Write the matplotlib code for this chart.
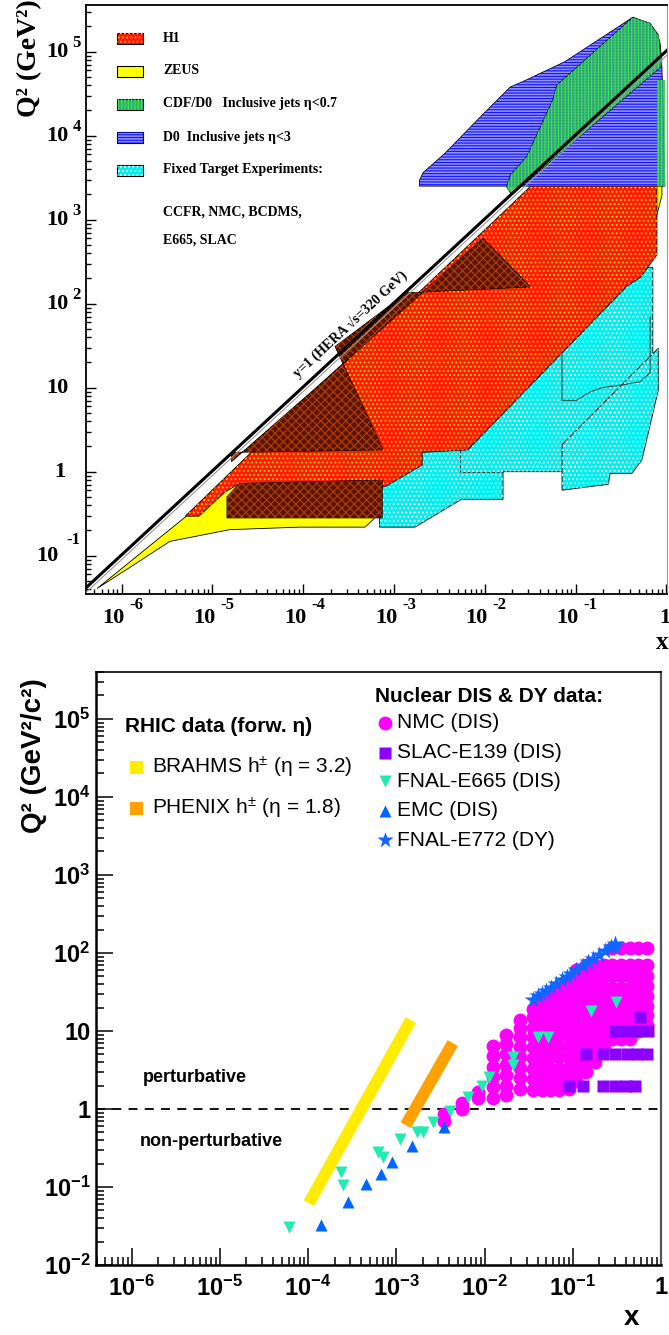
import numpy as np
import matplotlib.pyplot as plt
from matplotlib.patches import Polygon, Rectangle
from matplotlib.lines import Line2D
from matplotlib.ticker import FixedLocator, NullFormatter, FuncFormatter

plt.rcParams['mathtext.fontset'] = 'custom'
plt.rcParams['mathtext.rm'] = 'Liberation Sans'
plt.rcParams['mathtext.bf'] = 'Liberation Sans:bold'
plt.rcParams['mathtext.it'] = 'Liberation Sans:italic'
plt.rcParams['hatch.linewidth'] = 0.8

SERIF = 'Liberation Serif'
SANS = 'Liberation Sans'

# ---------------- top panel: kinematic coverage, vertices as (log10 x, log10 Q2)
hera_sqrt_s = 320.0

zeus = [(-6.27, -1.39), (-5.91, -1.14), (-5.47, -0.83), (-4.81, -0.69), (-4.04, -0.66),
        (-3.32, -0.66), (-2.80, -0.14), (-2.16, 0.20), (-0.29, 2.28), (-0.05, 3.29),
        (-0.05, 4.70), (-2.91, 1.93), (-5.30, -0.54)]
h1 = [(-5.30, -0.53), (-3.98, 0.85), (-1.61, 3.28), (-0.29, 4.66), (-0.105, 4.66),
      (-0.105, 2.58), (-0.29, 2.31), (-0.435, 2.21), (-2.19, 0.26), (-2.69, 0.23),
      (-2.69, 0.08), (-3.10, -0.18), (-4.70, -0.14), (-4.86, -0.24), (-5.15, -0.53)]
h1_dark_a = [(-4.79, 0.12), (-3.89, 0.97), (-2.02, 2.78), (-1.50, 2.20), (-2.86, 2.13),
             (-3.65, 1.49), (-3.12, 0.26), (-4.79, 0.23)]
h1_dark_b = [(-4.84, -0.30), (-4.70, -0.14), (-3.13, -0.10), (-3.13, -0.55), (-4.84, -0.55)]
fixed_a = [(-3.16, -0.66), (-2.77, -0.66), (-2.26, -0.33), (-1.80, -0.33), (-1.80, 0.00),
           (-1.03, 0.00), (-0.27, 1.03), (-0.15, 1.27), (-0.15, 2.43), (-0.42, 2.43),
           (-0.435, 2.21), (-2.19, 0.26), (-3.16, 0.26)]
fixed_b = [(-1.15, -0.22), (-0.64, -0.15), (-0.62, -0.02), (-0.38, -0.02), (-0.27, 0.14),
           (-0.09, 0.97), (-0.09, 1.47), (-1.15, 0.32)]
fixed_box = [(-1.15, 1.39), (-1.15, 0.85), (-0.99, 0.85), (-0.84, 0.95), (-0.71, 1.00),
             (-0.51, 1.03), (-0.29, 1.07), (-0.18, 1.18), (-0.18, 1.85)]
fixed_dash = [(-2.27, 0.26), (-2.27, 0.00), (-1.80, 0.00)]
d0_fwd = [(-2.72, 3.40), (-2.72, 3.47), (-2.68, 3.56), (-2.44, 3.79), (-2.08, 4.19),
          (-1.72, 4.58), (-1.59, 4.64), (-1.12, 4.88), (-0.37, 5.41), (-0.18, 5.32),
          (-0.105, 5.22), (-0.07, 5.10), (-0.05, 4.82), (-0.017, 3.40)]
cdf_d0 = [(-1.72, 3.32), (-1.76, 3.39), (-1.72, 3.53), (-1.54, 3.75), (-1.25, 4.43),
          (-1.21, 4.60), (-0.37, 5.41), (-0.18, 5.34), (-0.09, 5.20), (-0.05, 4.90),
          (-0.06, 4.82), (-1.69, 3.31)]
cdf_d0_strip = [(-0.10, 4.66), (-0.017, 4.66), (-0.017, 3.40), (-0.10, 3.40)]

# ---------------- bottom panel data
brahms_x = [1.02e-4, 1.46e-3]
brahms_q2 = [0.062, 13.8]
phenix_x = [1.28e-3, 4.36e-3]
phenix_q2 = [0.62, 7.0]

nmc_x = [0.0035, 0.0055, 0.0085, 0.0125, 0.0175, 0.025, 0.035, 0.045, 0.055, 0.07,
         0.09, 0.11, 0.14, 0.18, 0.225, 0.275, 0.35, 0.45, 0.55, 0.7]
nmc_q2 = [[0.7, 0.85],
          [1.0, 1.2],
          [1.4, 1.65],
          [1.4, 1.9, 2.6, 3.5, 4.8, 6.5],
          [1.5, 2.0, 2.7, 3.7, 5.0, 6.8, 8.8],
          [1.8, 2.5, 3.4, 4.6, 6.2, 8.4, 11, 14],
          [1.75, 2.4, 3.3, 4.5, 6.2, 8.4, 11, 15, 19],
          [1.75, 2.4, 3.3, 4.5, 6.2, 8.4, 11, 15, 20, 26],
          [1.75, 2.4, 3.3, 4.6, 6.3, 8.6, 11.5, 15.5, 21, 28],
          [1.75, 2.4, 3.3, 4.6, 6.3, 8.6, 11.5, 15.5, 21, 28, 36],
          [1.8, 2.5, 3.4, 4.7, 6.5, 8.9, 12, 16, 22, 30, 40],
          [2.3, 3.1, 4.2, 5.6, 7.6, 10, 13.5, 18, 25, 33, 45, 60],
          [3.0, 4.0, 5.4, 7.3, 9.8, 13, 18, 24, 32, 43, 58, 70],
          [4.0, 5.4, 7.3, 9.8, 13, 18, 24, 32, 43, 58, 70],
          [6, 8, 11, 15, 20, 27, 36, 50, 70],
          [8, 11, 15, 20, 27, 36, 50, 70, 115],
          [8, 11, 15, 20, 27, 36, 50, 70, 115],
          [8, 11, 15, 20, 27, 36, 50, 70, 115],
          [10, 13, 18, 24, 32, 43, 57, 70, 115],
          [12, 16, 21, 28, 38, 50, 70, 115]]

slac_x = [0.09, 0.13, 0.22, 0.30, 0.40, 0.51, 0.14, 0.22, 0.30, 0.41, 0.54, 0.69,
          0.30, 0.41, 0.54, 0.72, 0.58]
slac_q2 = [2, 2, 2, 2, 2, 2, 5, 5, 5, 5, 5, 5, 10, 10, 10, 10, 15]

e665_x = [6.0e-5, 2.34e-4, 2.47e-4, 6.15e-4, 7.0e-4, 1.09e-3, 1.70e-3, 1.99e-3, 2.58e-3,
          4.03e-3, 6.44e-3, 9.27e-3, 0.0111, 0.0208, 0.0208, 0.0399, 0.0519, 0.163, 0.305]
e665_q2 = [0.031, 0.156, 0.106, 0.281, 0.243, 0.41, 0.507, 0.507, 0.68,
           0.94, 1.43, 1.97, 2.57, 4.64, 3.66, 8.4, 8.4, 18, 23.5]

emc_x = [1.39e-4, 2.82e-4, 4.51e-4, 6.67e-4, 8.87e-4, 1.50e-3, 3.44e-3]
emc_q2 = [0.0326, 0.0643, 0.109, 0.147, 0.209, 0.336, 0.588]

e772_x = [0.035, 0.04, 0.045, 0.05, 0.057, 0.065, 0.075, 0.085, 0.095, 0.11, 0.13,
          0.15, 0.17, 0.2, 0.23, 0.27, 0.3, 0.3]
e772_q2 = [25, 28, 30, 33, 36, 40, 45, 49, 54, 60, 68, 76, 84, 95, 107, 120, 130, 118]

fig = plt.figure(figsize=(6.69, 13.35), dpi=100)


def fx(px):
    return px / 669.0


def fy(py):
    return 1 - py / 1335.0


def region(ax, verts, face, hatch=None, hcolor=None, lw=0.6, ls='-', z=1, edge='black', alpha=1.0):
    xy = [(10 ** a, 10 ** b) for a, b in verts]
    ax.add_patch(Polygon(xy, closed=True, facecolor=face, edgecolor=edge, lw=lw, ls=ls, zorder=z,
                         alpha=alpha))
    if hatch:
        ax.add_patch(Polygon(xy, closed=True, fill=False, hatch=hatch, edgecolor=hcolor,
                             lw=0, zorder=z + 0.01))


def decade_ticks(lo, hi):
    major = [10.0 ** k for k in range(lo, hi + 1)]
    minor = [m * 10.0 ** k for k in range(lo - 1, hi + 1) for m in range(2, 10)]
    return major, minor


# ================= top panel =================
ax1 = fig.add_axes([fx(85.6), fy(594), (667 - 85.6) / 669, (594 - 5) / 1335])
ax1.set_xscale('log')
ax1.set_yscale('log')
ax1.set_xlim(10 ** -6.397, 10 ** 0.006)
ax1.set_ylim(10 ** -1.456, 10 ** 5.556)

styles = {
    'h1': ('#ff1a00', '....', '#ffd000'),
    'zeus': ('#ffff00', None, None),
    'cdf': ('#34ac70', '|||||', '#30f040'),
    'd0': ('#9090ff', '------', '#1010ff'),
    'fixed': ('#00f0f0', '....', 'white'),
    'dark': ('#5c1400', 'xxxx', '#b04008'),
}

region(ax1, zeus, *styles['zeus'], z=1)
region(ax1, fixed_a, *styles['fixed'], z=2)
region(ax1, fixed_b, *styles['fixed'], z=2)
region(ax1, h1, *styles['h1'], z=3)
region(ax1, h1_dark_a, *styles['dark'], z=4)
region(ax1, h1_dark_b, *styles['dark'], z=4)
ax1.plot([10 ** a for a, b in fixed_box], [10 ** b for a, b in fixed_box], color='#333333', lw=0.7, zorder=5)
ax1.plot([10 ** a for a, b in fixed_dash], [10 ** b for a, b in fixed_dash], color='#333333', lw=0.7,
         ls=(0, (3, 2)), zorder=5)
region(ax1, d0_fwd, *styles['d0'], z=6)
region(ax1, cdf_d0, *styles['cdf'], z=7, alpha=0.85)
region(ax1, cdf_d0_strip, *styles['cdf'], z=7, lw=0, alpha=0.85)

xl = np.array(ax1.get_xlim())
ax1.plot(xl, hera_sqrt_s ** 2 * xl * 0.88, color='#999999', lw=0.8, zorder=9)
ax1.plot(xl, hera_sqrt_s ** 2 * xl, color='black', lw=2.2, zorder=9)
ax1.text(3.4e-4, 56.0, 'y=1 (HERA √s=320 GeV)', rotation=42.8, rotation_mode='anchor',
         ha='center', va='center', fontsize=10, fontweight='bold', family=SERIF, zorder=10)

mj, mn = decade_ticks(-6, 0)
ax1.xaxis.set_major_locator(FixedLocator(mj))
ax1.xaxis.set_minor_locator(FixedLocator(mn))
mj, mn = decade_ticks(-1, 5)
ax1.yaxis.set_major_locator(FixedLocator(mj))
ax1.yaxis.set_minor_locator(FixedLocator(mn))
for axis in (ax1.xaxis, ax1.yaxis):
    axis.set_major_formatter(NullFormatter())
    axis.set_minor_formatter(NullFormatter())
ax1.tick_params(which='both', direction='in', top=False, right=False, width=1)
ax1.tick_params(which='major', length=7)
ax1.tick_params(which='minor', length=3.5)
for s in ['left', 'bottom', 'top']:
    ax1.spines[s].set_linewidth(1.3)
ax1.spines['right'].set_color('#999999')

tk = dict(family=SERIF, fontweight='bold', textcoords='offset pixels', annotation_clip=False)
for k in range(-6, 1):
    v = 10.0 ** k
    if k == 0:
        ax1.annotate('1', xy=(v, 0), xycoords=('data', 'axes fraction'), xytext=(-2, -24),
                     ha='center', va='center', fontsize=16, **tk)
    else:
        ax1.annotate('10', xy=(v, 0), xycoords=('data', 'axes fraction'), xytext=(3, -24),
                     ha='right', va='center', fontsize=16, **tk)
        ax1.annotate(str(k), xy=(v, 0), xycoords=('data', 'axes fraction'), xytext=(8, -11),
                     ha='left', va='center', fontsize=12, **tk)
for k in range(-1, 6):
    v = 10.0 ** k
    if k == 0:
        ax1.annotate('1', xy=(0, v), xycoords=('axes fraction', 'data'), xytext=(-20, 0),
                     ha='right', va='center', fontsize=16, **tk)
    elif k == 1:
        ax1.annotate('10', xy=(0, v), xycoords=('axes fraction', 'data'), xytext=(-17, 0),
                     ha='right', va='center', fontsize=16, **tk)
    elif k < 0:
        ax1.annotate('10', xy=(0, v), xycoords=('axes fraction', 'data'), xytext=(-27, 0),
                     ha='right', va='center', fontsize=16, **tk)
        ax1.annotate(str(k), xy=(0, v), xycoords=('axes fraction', 'data'), xytext=(-19, 16),
                     ha='left', va='center', fontsize=12, **tk)
    else:
        ax1.annotate('10', xy=(0, v), xycoords=('axes fraction', 'data'), xytext=(-17, 0),
                     ha='right', va='center', fontsize=16, **tk)
        ax1.annotate(str(k), xy=(0, v), xycoords=('axes fraction', 'data'), xytext=(-13, 9),
                     ha='left', va='center', fontsize=12, **tk)

fig.text(fx(30), fy(58), 'Q² (GeV²)', rotation=90, ha='center', va='center', fontsize=20,
         fontweight='bold', family=SERIF)
fig.text(fx(662), fy(643), 'x', ha='center', va='center', fontsize=18, fontweight='bold', family=SERIF)

# top legend
top_legend = [('H1', 'h1', 38), ('ZEUS', 'zeus', 71), ('CDF/D0   Inclusive jets η<0.7', 'cdf', 104),
              ('D0  Inclusive jets η<3', 'd0', 137), ('Fixed Target Experiments:', 'fixed', 170)]
for lab, key, py in top_legend:
    face, hatch, hcol = styles[key]
    fig.add_artist(Rectangle((fx(117), fy(py + 5.5)), 26 / 669, 11 / 1335, transform=fig.transFigure,
                             facecolor=face, edgecolor='black', lw=0.8))
    if hatch:
        fig.add_artist(Rectangle((fx(117), fy(py + 5.5)), 26 / 669, 11 / 1335, transform=fig.transFigure,
                                 fill=False, hatch=hatch, edgecolor=hcol, lw=0))
    fig.text(fx(163), fy(py), lab, ha='left', va='center', fontsize=10, fontweight='bold', family=SERIF)
fig.text(fx(163), fy(212), 'CCFR, NMC, BCDMS,', ha='left', va='center', fontsize=10, fontweight='bold', family=SERIF)
fig.text(fx(163), fy(240), 'E665, SLAC', ha='left', va='center', fontsize=10, fontweight='bold', family=SERIF)

# ================= bottom panel =================
ax2 = fig.add_axes([fx(96), fy(1265), (661 - 96) / 669, (1265 - 671.7) / 1335])
ax2.set_xscale('log')
ax2.set_yscale('log')
ax2.set_xlim(10 ** -6.404, 1.0)
ax2.set_ylim(1e-2, 10 ** 5.606)

ax2.plot(brahms_x, brahms_q2, color='#ffec00', lw=8.5, solid_capstyle='butt', zorder=2)
ax2.plot(phenix_x, phenix_q2, color='#ffa200', lw=8.5, solid_capstyle='butt', zorder=2)

nx = [x for x, qs in zip(nmc_x, nmc_q2) for q in qs]
nq = [q for x, qs in zip(nmc_x, nmc_q2) for q in qs]
ax2.plot(nx, nq, 'o', color='#ff00ff', ms=10, mec='none', zorder=3)
ax2.plot(slac_x, slac_q2, 's', color='#8c00ff', ms=8.6, mec='none', zorder=4)
ax2.plot(e665_x, e665_q2, 'v', color='#1eecb0', ms=9, mec='none', zorder=5)
ax2.plot(emc_x, emc_q2, '^', color='#0066ff', ms=9, mec='none', zorder=5)
ax2.plot(e772_x, e772_q2, '*', color='#1166ff', ms=13, mec='none', zorder=6)

ax2.axhline(1.0, color='black', lw=1.3, ls=(0, (5, 4)), zorder=1)
fig.text(fx(143), fy(1077), 'perturbative', ha='left', va='center',
         fontsize=13, fontweight='bold', family=SANS)
fig.text(fx(140), fy(1141), 'non-perturbative', ha='left', va='center',
         fontsize=13, fontweight='bold', family=SANS)


def fmt(v, pos):
    k = int(round(np.log10(v)))
    if k == 0:
        return '1'
    if k == 1:
        return '10'
    return r'$\mathbf{10^{%d}}$' % k


mj, mn = decade_ticks(-6, 0)
ax2.xaxis.set_major_locator(FixedLocator(mj))
ax2.xaxis.set_minor_locator(FixedLocator(mn))
mj, mn = decade_ticks(-2, 5)
ax2.yaxis.set_major_locator(FixedLocator(mj))
ax2.yaxis.set_minor_locator(FixedLocator(mn))
ax2.xaxis.set_major_formatter(FuncFormatter(fmt))
ax2.yaxis.set_major_formatter(FuncFormatter(fmt))
ax2.xaxis.set_minor_formatter(NullFormatter())
ax2.yaxis.set_minor_formatter(NullFormatter())
ax2.tick_params(which='both', direction='in', top=False, right=False, width=1.1)
ax2.tick_params(which='major', length=12, labelsize=17)
ax2.tick_params(which='minor', length=6)
ax2.tick_params(axis='x', pad=8)
ax2.tick_params(axis='y', pad=4)
for lab in ax2.get_xticklabels() + ax2.get_yticklabels():
    lab.set_fontweight('bold')
    lab.set_family(SANS)
ax2.spines['left'].set_linewidth(1.8)
ax2.spines['bottom'].set_linewidth(1.8)
ax2.spines['top'].set_linewidth(1.2)
ax2.spines['right'].set_linewidth(1.6)
ax2.spines['right'].set_color('#555555')

fig.text(fx(34), fy(756), 'Q² (GeV²/c²)', rotation=90, ha='center', va='center', fontsize=20,
         fontweight='bold', family=SANS)
fig.text(fx(632), fy(1318), 'x', ha='center', va='center', fontsize=20, fontweight='bold', family=SANS)

# bottom legends
fig.text(fx(125), fy(727), 'RHIC data (forw. η)', ha='left', va='center', fontsize=15,
         fontweight='bold', family=SANS)
for lab, col, py in [(r'BRAHMS h$^{\pm}$ (η = 3.2)', '#ffec00', 767),
                     (r'PHENIX h$^{\pm}$ (η = 1.8)', '#ffa200', 808)]:
    fig.add_artist(Rectangle((fx(130), fy(py + 6.5)), 13 / 669, 13 / 1335, transform=fig.transFigure,
                             facecolor=col, edgecolor='none'))
    fig.text(fx(152), fy(py), lab, ha='left', va='center', fontsize=15, family=SANS)

fig.text(fx(375), fy(696), 'Nuclear DIS & DY data:', ha='left', va='center', fontsize=15,
         fontweight='bold', family=SANS)
for lab, mk, col, ms, py in [('NMC (DIS)', 'o', '#ff00ff', 10, 723),
                             ('SLAC-E139 (DIS)', 's', '#8c00ff', 8, 753),
                             ('FNAL-E665 (DIS)', 'v', '#1eecb0', 9, 781),
                             ('EMC (DIS)', '^', '#0066ff', 9, 811),
                             ('FNAL-E772 (DY)', '*', '#1166ff', 12, 840)]:
    fig.add_artist(Line2D([fx(385)], [fy(py)], transform=fig.transFigure, marker=mk, color=col,
                          ms=ms, mec='none', ls='none'))
    fig.text(fx(397), fy(py), lab, ha='left', va='center', fontsize=15, family=SANS)

fig.savefig('out.png', dpi=100)
